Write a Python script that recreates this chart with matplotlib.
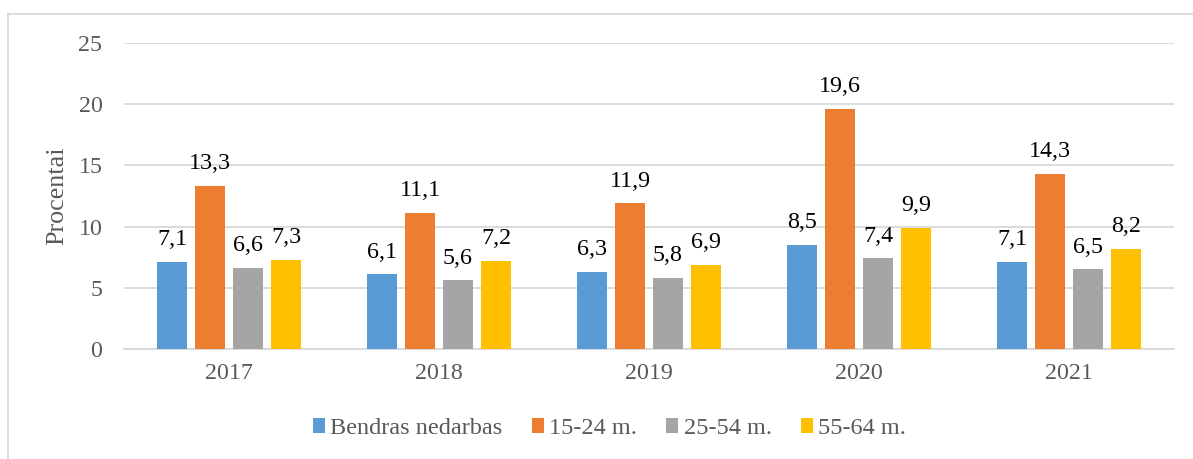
import matplotlib
matplotlib.use("Agg")
import matplotlib.pyplot as plt
from matplotlib.lines import Line2D
from matplotlib.patches import Patch
import numpy as np

years = ["2017", "2018", "2019", "2020", "2021"]
series_names = ["Bendras nedarbas", "15-24 m.", "25-54 m.", "55-64 m."]
bendras = [7.1, 6.1, 6.3, 8.5, 7.1]
m15_24 = [13.3, 11.1, 11.9, 19.6, 14.3]
m25_54 = [6.6, 5.6, 5.8, 7.4, 6.5]
m55_64 = [7.3, 7.2, 6.9, 9.9, 8.2]
yticks = [0, 5, 10, 15, 20, 25]
colors = ["#5B9BD5", "#ED7D31", "#A5A5A5", "#FFC000"]

plt.rcParams['font.family'] = ['Liberation Serif', 'DejaVu Serif']

fig = plt.figure(figsize=(11.93, 4.59), dpi=100)
ax = fig.add_axes([124/1193, 1-349/459, 1050/1193, (349-43)/459])

x = np.arange(len(years))
step = 38/210
width = 30/210
data = [bendras, m15_24, m25_54, m55_64]
for i, (vals, c) in enumerate(zip(data, colors)):
    pos = x + (i - 1.5) * step
    ax.bar(pos, vals, width=width, color=c, zorder=3)
    for p, v in zip(pos, vals):
        ax.annotate(f"{v:.1f}".replace(".", ","), (p, v), xytext=(0, 8.5),
                    textcoords="offset points", ha="center", va="bottom",
                    fontsize=17.3, color="black")

ax.set_xlim(-0.5, len(years) - 0.5)
ax.set_ylim(0, 25)
ax.set_yticks(yticks)
ax.set_yticklabels([str(t) for t in yticks])
ax.set_xticks(x)
ax.set_xticklabels(years)
ax.tick_params(axis="both", length=0, labelsize=17.3, labelcolor="#595959")
ax.tick_params(axis="y", pad=15.5)
ax.tick_params(axis="x", pad=10)
ax.grid(axis="y", color="#D9D9D9", linewidth=1.3, zorder=0)
for s in ["top", "right", "left"]:
    ax.spines[s].set_visible(False)
ax.spines["bottom"].set_color("#D9D9D9")
ax.spines["bottom"].set_linewidth(1.3)
fig.text(57/1193, 1-196/459, "Procentai", rotation=90, ha="center", va="center",
         fontsize=18.8, color="#595959")

handles = [Patch(facecolor=c, edgecolor="none") for c in colors]
fig.legend(handles, series_names, loc="center", bbox_to_anchor=(0.511, 0.067),
           ncol=4, frameon=False, fontsize=17.5, handlelength=0.5, handleheight=0.6,
           handletextpad=0.22, columnspacing=1.2, labelcolor="#595959",
           borderpad=0.2)

# outer border
fig.add_artist(Line2D([8/1193, 8/1193], [0, 1-14/459], transform=fig.transFigure,
                      color="#D9D9D9", linewidth=1.3))
fig.add_artist(Line2D([8/1193, 1], [1-14/459, 1-14/459], transform=fig.transFigure,
                      color="#D9D9D9", linewidth=1.3))

fig.savefig("out.png", dpi=100)
